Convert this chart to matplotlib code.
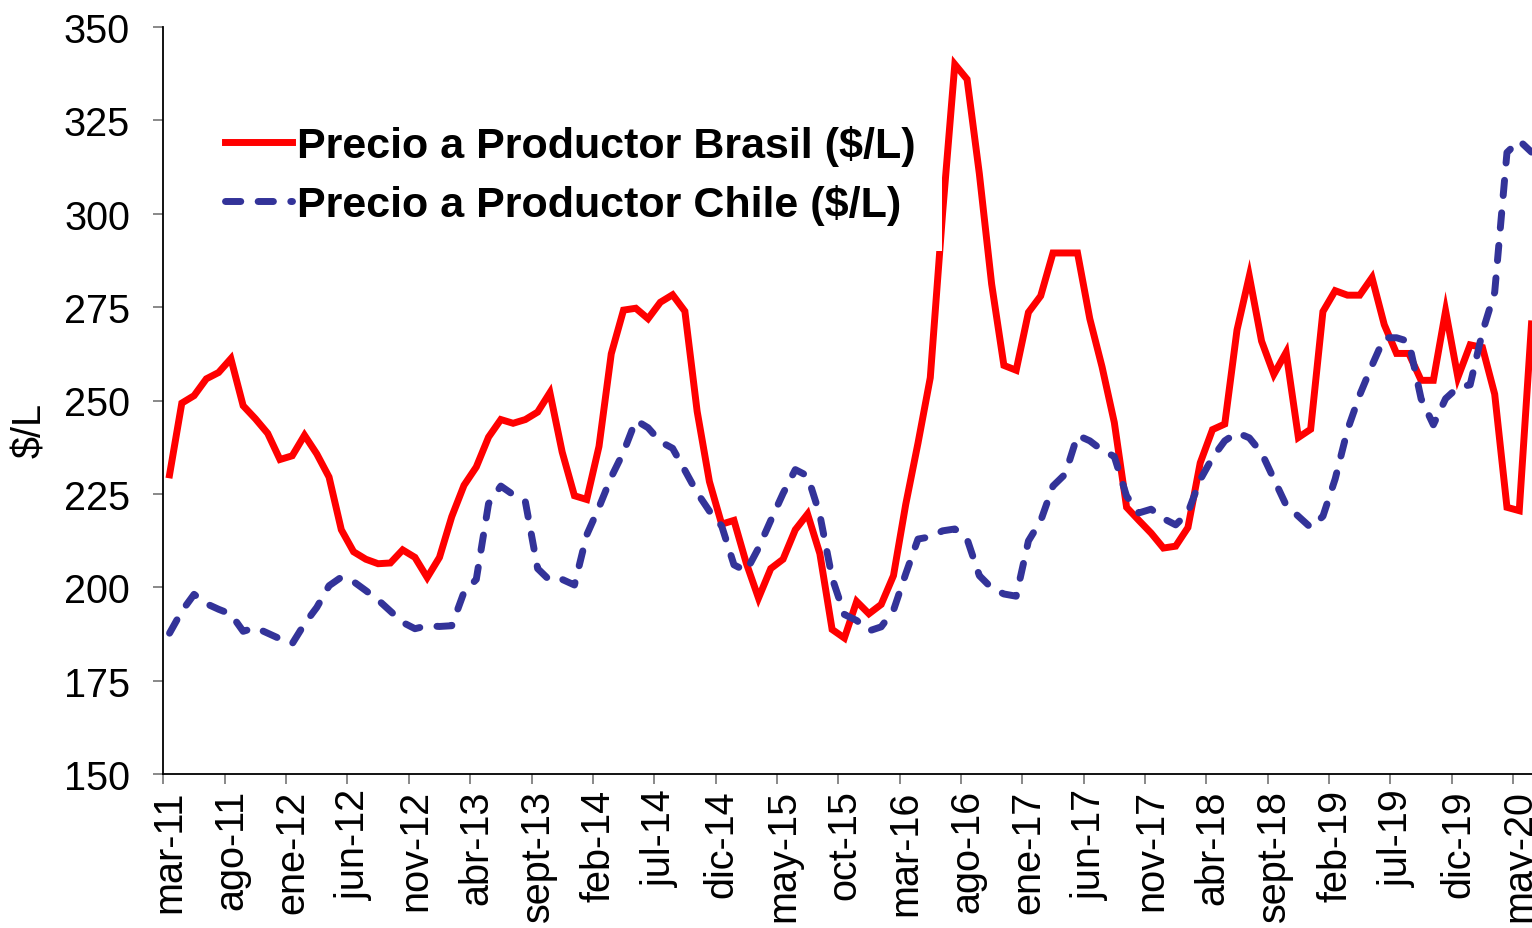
import matplotlib
matplotlib.use('Agg')
import matplotlib.pyplot as plt
import numpy as np

# Monthly categories mar-11 .. jun-20 (112 months); every 5th one is labelled
tick_labels = ['mar-11', 'ago-11', 'ene-12', 'jun-12', 'nov-12', 'abr-13', 'sept-13',
               'feb-14', 'jul-14', 'dic-14', 'may-15', 'oct-15', 'mar-16', 'ago-16',
               'ene-17', 'jun-17', 'nov-17', 'abr-18', 'sept-18', 'feb-19', 'jul-19',
               'dic-19', 'may-20']

# Precio a Productor Brasil ($/L)
brasil = [230.1, 249.3, 251.3, 255.8, 257.5, 261.2, 248.6, 245.1, 241.2, 234.2,
          235.2, 240.7, 235.7, 229.5, 215.4, 209.5, 207.5, 206.3, 206.5, 210.0,
          208.0, 202.6, 208.0, 218.9, 227.3, 232.2, 240.2, 244.9, 243.9, 244.9,
          246.9, 252.1, 236.2, 224.5, 223.5, 237.7, 262.5, 274.2, 274.7, 271.9,
          276.3, 278.3, 273.9, 247.1, 228.3, 216.9, 217.9, 206.5, 197.1, 205.0,
          207.5, 215.4, 219.6, 209.0, 188.7, 186.4, 196.2, 192.9, 195.4, 203.1,
          222.2, 238.6, 256.1, 300.0, 340.0, 336.0, 310.7, 281.2, 259.4, 258.1,
          273.6, 278.0, 289.5, 289.5, 289.5, 271.9, 259.0, 244.1, 221.4, 217.9,
          214.5, 210.5, 211.0, 216.0, 233.3, 242.2, 243.7, 268.9, 283.3, 265.9,
          257.0, 262.9, 240.1, 242.3, 273.8, 279.4, 278.2, 278.2, 282.9, 270.3,
          262.6, 262.6, 255.4, 255.4, 274.0, 256.2, 264.9, 264.2, 251.7, 221.4,
          220.5, 270.5]

# Precio a Productor Chile ($/L)
chile = [187.7, 193.6, 198.1, 195.6, 194.1, 192.8, 188.2, 189.2, 187.7, 186.2,
         184.9, 190.2, 194.6, 200.4, 202.7, 201.5, 199.1, 196.6, 193.6, 190.6,
         188.9, 189.7, 189.5, 189.7, 198.7, 202.1, 222.4, 227.1, 224.8, 222.9,
         205.0, 201.8, 202.1, 200.6, 214.0, 221.4, 229.5, 236.2, 244.7, 242.7,
         239.0, 237.2, 231.3, 225.3, 220.4, 216.4, 206.0, 204.3, 210.5, 217.9,
         225.1, 231.5, 229.8, 219.4, 202.5, 192.7, 191.1, 188.3, 189.4, 193.8,
         203.6, 212.9, 213.5, 215.1, 215.6, 212.9, 203.1, 199.8, 198.2, 197.6,
         212.4, 217.8, 227.1, 230.3, 240.7, 239.2, 236.7, 235.0, 224.4, 219.9,
         220.9, 218.4, 216.7, 220.0, 228.8, 234.7, 239.2, 241.4, 240.0, 236.0,
         229.0, 222.0, 219.0, 216.0, 219.0, 229.0, 242.1, 251.5, 259.4, 266.8,
         266.8, 265.8, 250.5, 243.5, 250.5, 253.5, 254.2, 268.3, 279.0, 316.4,
         319.6, 316.5]

plt.rcParams['font.family'] = ['Liberation Sans', 'DejaVu Sans']
plt.rcParams['lines.scale_dashes'] = False

W, H = 1532, 929
fig = plt.figure(figsize=(W / 100, H / 100), dpi=100)
n = len(brasil)
px_per_cat = 12.27
ax = fig.add_axes([163.4 / W, (H - 775) / H, n * px_per_cat / W, 747 / H])

x = np.arange(n)
ax.plot(x, brasil, color='#FF0000', lw=5, solid_joinstyle='miter',
        label='Precio a Productor Brasil ($/L)')
ax.plot(x, chile, color='#333399', lw=5, dashes=(11, 12.5),
        dash_capstyle='round', label='Precio a Productor Chile ($/L)')

ax.set_xlim(-0.5, n - 0.5)
ax.set_ylim(150, 350)
ax.set_yticks(np.arange(150, 351, 25))

# tick marks on category boundaries, labels centred on the category
ax.set_xticks(np.arange(0, n, 5) - 0.5)
ax.set_xticklabels([])
ax.set_xticks(np.arange(0, n, 5)[:len(tick_labels)], minor=True)
ax.set_xticklabels(tick_labels, minor=True, rotation=90, fontsize=28.5)
ax.tick_params(axis='x', which='major', length=7, width=1.3, color='#7f7f7f', direction='out')
ax.tick_params(axis='x', which='minor', length=0, pad=11)
ax.tick_params(axis='y', length=7, width=1.3, color='#7f7f7f', direction='out',
               labelsize=28.5, pad=17)

for side in ['top', 'right']:
    ax.spines[side].set_visible(False)
ax.spines['left'].set_linewidth(1.3)
ax.spines['bottom'].set_linewidth(1.3)

fig.text(30 / W, 1 - 430 / H, '$/L', rotation=90, ha='center', va='center', fontsize=28.5)

leg = ax.legend(loc='upper left', bbox_to_anchor=(0.026, 0.903),
                prop={'weight': 'bold', 'size': 31}, frameon=True,
                facecolor='white', edgecolor='none', framealpha=1,
                handlelength=1.56, handletextpad=0.12, labelspacing=0.42,
                borderpad=0.6, borderaxespad=0)
leg.get_frame().set_boxstyle('square', pad=0)

fig.savefig('out.png', dpi=100)
